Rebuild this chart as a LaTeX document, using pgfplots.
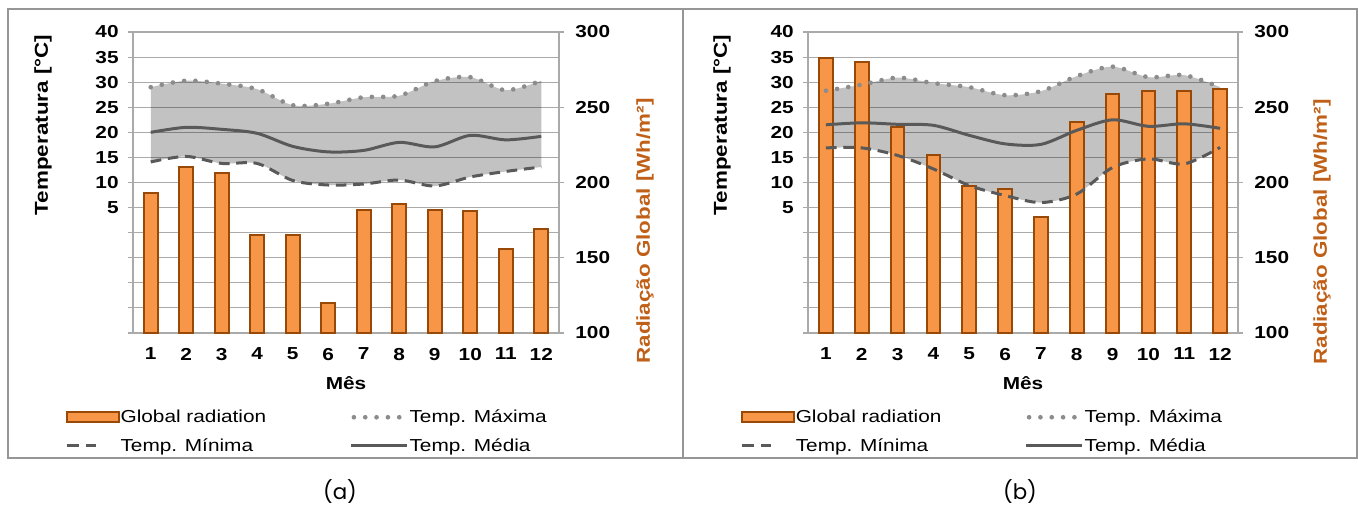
\documentclass[border=0pt]{standalone}
\usepackage{fontspec}
\setmainfont{Liberation Sans}[FakeStretch=1.2]
\newfontfamily\capfont{Poppins}
\usepackage{pgfplots}
\pgfplotsset{compat=1.18}
\usepgfplotslibrary{fillbetween}

\definecolor{barfill}{RGB}{247,150,70}
\definecolor{barline}{RGB}{152,72,7}
\definecolor{radlabel}{RGB}{192,96,24}
\definecolor{gridc}{RGB}{170,170,170}
\definecolor{framec}{RGB}{150,150,150}
\definecolor{maxc}{RGB}{140,140,140}
\definecolor{linec}{RGB}{89,89,89}

\newcommand{\tickfont}{\fontsize{13}{15}\selectfont\bfseries}
\newcommand{\titlefont}{\fontsize{14}{16}\selectfont\bfseries}
\newcommand{\legfont}{\fontsize{13}{15}\selectfont}

% month, radiation (Wh/m2), max, mean, min temperature
\pgfplotstableread{
m  rad tmax tmean tmin
1  193 29.0 20.0 14.1
2  210 30.3 21.0 15.2
3  206 29.7 20.6 13.8
4  165 28.6 19.8 13.8
5  165 25.4 17.2 10.4
6  120 25.7 16.1  9.5
7  182 27.0 16.4  9.7
8  186 27.3 18.0 10.5
9  182 30.2 17.1  9.3
10 181 31.0 19.4 11.1
11 156 28.4 18.5 12.2
12 169 30.3 19.2 13.1
}\dataA

\pgfplotstableread{
m  rad tmax tmean tmin
1  283 28.3 21.5 16.9
2  280 29.5 21.9 16.9
3  237 30.9 21.6 15.4
4  218 29.8 21.4 12.7
5  198 29.0 19.4  9.4
6  196 27.4 17.7  7.4
7  177 28.2 17.6  6.0
8  240 31.2 20.4  7.7
9  259 33.1 22.5 13.0
10 261 31.0 21.2 14.7
11 261 31.4 21.7 13.7
12 262 29.0 20.8 17.0
}\dataB

\pgfplotsset{
  base/.style={
    scale only axis, height=225.75pt,
    xmin=0.5, xmax=12.5,
    /pgf/number format/assume math mode=true,
    ticklabel style={font=\tickfont},
    tick align=outside, major tick length=3.75pt,
  },
  tempax/.style={base, ymin=-20, ymax=40},
}

% #1 left (pt), #2 width (pt), #3 table, #4 legend x
\newcommand{\panel}[4]{%
  \begin{axis}[tempax, at={(#1,129.75pt)}, anchor=south west, width=#2,
    axis y line*=left, axis x line*=bottom,
    axis line style={-, gridc, line width=0.8pt},
    ymajorgrids, grid style={gridc, line width=0.8pt},
    ytick={-20,-15,...,40},
    yticklabels={,,,,,5,10,15,20,25,30,35,40},
    y tick style={gridc, line width=0.8pt},
    yticklabel style={xshift=-3.5pt},
    xtick={1,...,12}, x tick style={draw=none},
    xticklabel style={yshift=-4pt},
  ]
    \addplot[draw=none, smooth, name path=mx] table[x=m, y=tmax] {#3};
    \addplot[draw=none, smooth, name path=mn] table[x=m, y=tmin] {#3};
    \addplot[fill=black, fill opacity=0.24] fill between[of=mx and mn];
  \end{axis}
  \begin{axis}[base, at={(#1,129.75pt)}, anchor=south west, width=#2,
    ymin=100, ymax=300,
    axis y line*=right, axis x line=none,
    axis line style={-, gridc, line width=0.8pt},
    ytick={100,150,...,300},
    y tick style={gridc, line width=0.8pt},
    yticklabel style={xshift=5pt},
  ]
    \addplot[ybar, bar width=10.3pt, fill=barfill, draw=barline, line width=1.5pt]
      table[x=m, y=rad] {#3};
  \end{axis}
  \begin{axis}[tempax, at={(#1,129.75pt)}, anchor=south west, width=#2,
    hide axis,
    legend columns=2,
    legend cell align=left,
    legend style={at={(axis description cs:#4,-0.243)}, anchor=north west,
      draw=none, fill=none, font=\legfont, row sep=9pt,
      nodes={inner sep=0.6pt},
      /tikz/every even column/.append style={column sep=62pt}},
  ]
    \addlegendimage{legend image code/.code={\draw[fill=barfill, draw=barline, line width=1.5pt] (0pt,-3.8pt) rectangle (39pt,3.8pt);}}
    \addlegendentry{Global radiation}
    \addlegendimage{legend image code/.code={\draw[maxc, line width=3.5pt, line cap=round, dash pattern=on 0pt off 8.5pt] (2pt,0pt) -- (41pt,0pt);}}
    \addlegendentry{Temp. Máxima}
    \addlegendimage{legend image code/.code={\draw[linec, line width=2.25pt, dash pattern=on 9pt off 5.5pt] (0pt,0pt) -- (22pt,0pt);}}
    \addlegendentry{Temp. Mínima}
    \addlegendimage{legend image code/.code={\draw[linec, line width=2.25pt] (0pt,0pt) -- (42pt,0pt);}}
    \addlegendentry{Temp. Média}
    \addplot[forget plot, smooth, maxc, line width=3.5pt, line cap=round, dash pattern=on 0pt off 8.5pt]
      table[x=m, y=tmax] {#3};
    \addplot[forget plot, smooth, linec, line width=2.25pt, dash pattern=on 8pt off 5pt]
      table[x=m, y=tmin] {#3};
    \addplot[forget plot, smooth, linec, line width=2.25pt]
      table[x=m, y=tmean] {#3};
  \end{axis}
}

\begin{document}
\begin{tikzpicture}
\draw[framec, line width=1.1pt] (6pt,36pt) rectangle (512.25pt,372.75pt);
\draw[framec, line width=1.1pt] (512.25pt,36pt) rectangle (1017.75pt,372.75pt);

\panel{99.75pt}{319.5pt}{\dataA}{-0.169}
\panel{606pt}{322.5pt}{\dataB}{-0.167}

% axis titles
\node[rotate=90, font=\titlefont] at (32.25pt,285.75pt) {Temperatura [°C]};
\node[rotate=90, font=\titlefont, text=radlabel] at (483.75pt,206.25pt) {Radiação Global [Wh/m²]};
\node[font=\tickfont] at (259.5pt,92.25pt) {Mês};
\node[rotate=90, font=\titlefont] at (541.5pt,285.75pt) {Temperatura [°C]};
\node[rotate=90, font=\titlefont, text=radlabel] at (991.5pt,205.5pt) {Radiação Global [Wh/m²]};
\node[font=\tickfont] at (767.25pt,92.25pt) {Mês};

\node[font=\capfont\fontsize{16}{18}\selectfont] at (255pt,10.5pt) {(a)};
\node[font=\capfont\fontsize{16}{18}\selectfont] at (765pt,10.5pt) {(b)};
\path (0,0) rectangle (1018.5pt,379.5pt);
\end{tikzpicture}
\end{document}
